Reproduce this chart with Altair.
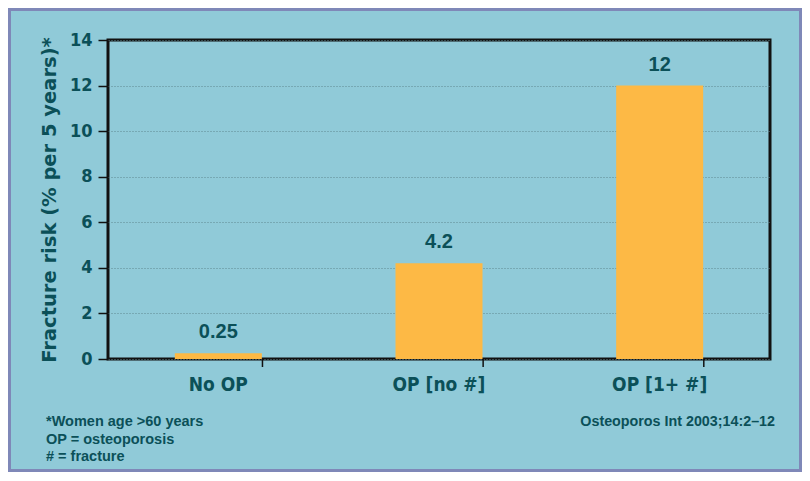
import altair as alt
import pandas as pd

categories = ["No OP", "OP [no #]", "OP [1+ #]"]
risk = [0.25, 4.2, 12]
value_labels = ["0.25", "4.2", "12"]
y_ticks = [0, 2, 4, 6, 8, 10, 12, 14]
footnotes = ["*Women age >60 years", "OP = osteoporosis", "# = fracture"]
source_note = "Osteoporos Int 2003;14:2\u201312"

df = pd.DataFrame({"cat": categories, "risk": risk, "label": value_labels})

W, H = 662, 319
TEAL = "#0b5058"
BG = "#90cad8"
BAR = "#fdb945"
NARROW = "'DejaVu Sans Condensed', 'Liberation Sans Narrow', 'Liberation Sans', sans-serif"
SANS = "Liberation Sans"

xscale = alt.Scale(domain=categories, paddingInner=0.6, paddingOuter=0.3)
yscale = alt.Scale(domain=[0, 14], nice=False)

bars = alt.Chart(df).mark_bar(color=BAR, size=87).encode(
    x=alt.X("cat:N", scale=xscale, sort=categories,
            axis=alt.Axis(title=None, labelAngle=0, ticks=False, domain=False,
                          labelFont=NARROW, labelFontSize=19, labelFontWeight="bold",
                          labelColor=TEAL, labelPadding=16)),
    y=alt.Y("risk:Q", scale=yscale,
            axis=alt.Axis(title="Fracture risk (% per 5 years)*", values=y_ticks,
                          titleFont="DejaVu Sans", titleFontSize=19.5, titleFontWeight="bold",
                          titleColor=TEAL, titlePadding=10,
                          labelFont=NARROW, labelFontSize=18, labelFontWeight="bold",
                          labelColor=TEAL, labelPadding=6,
                          tickSize=10, tickColor="#111111", tickWidth=1.5,
                          domain=False, grid=True, gridColor="#5f8890",
                          gridDash=[1, 2], gridWidth=1)),
)

texts = alt.Chart(df).mark_text(font=SANS, fontSize=20, fontWeight="bold",
                                color=TEAL, baseline="alphabetic", dy=-15).encode(
    x=alt.X("cat:N", scale=xscale, sort=categories),
    y=alt.Y("risk:Q", scale=yscale),
    text="label:N",
)

ticks = alt.Chart(df).mark_rule(color="#111111", strokeWidth=1.5).encode(
    x=alt.X("cat:N", scale=xscale, sort=categories, bandPosition=1),
    y=alt.value(H),
    y2=alt.value(H + 8),
)

foot_layers = []
for i, t in enumerate(footnotes):
    foot_layers.append(
        alt.Chart(pd.DataFrame({"t": [t]})).mark_text(
            font=SANS, fontSize=14.5, fontWeight="bold", color=TEAL,
            align="left", baseline="middle").encode(
            x=alt.value(-62), y=alt.value(H + 63 + 17.5 * i), text="t:N")
    )

src = alt.Chart(pd.DataFrame({"t": [source_note]})).mark_text(
    font=SANS, fontSize=14.3, fontWeight="bold", color=TEAL,
    align="right", baseline="middle").encode(
    x=alt.value(W + 5), y=alt.value(H + 63), text="t:N")

border = alt.Chart(pd.DataFrame({"a": [0]})).mark_rect(
    fill=None, stroke="#7f88b8", strokeWidth=3, clip=False).encode(
    x=alt.value(-98.5), x2=alt.value(W + 30.5),
    y=alt.value(-30.5), y2=alt.value(H + 111.5))

chart = alt.layer(bars, texts, ticks, *foot_layers, src, border).properties(
    width=W, height=H,
    background=BG,
    padding={"left": 100, "top": 32, "right": 32, "bottom": 113},
    autosize=alt.AutoSizeParams(type="none"),
).configure_view(stroke="#111111", strokeWidth=3)

chart.save("out.html", embed_options={"renderer": "svg", "actions": False})
